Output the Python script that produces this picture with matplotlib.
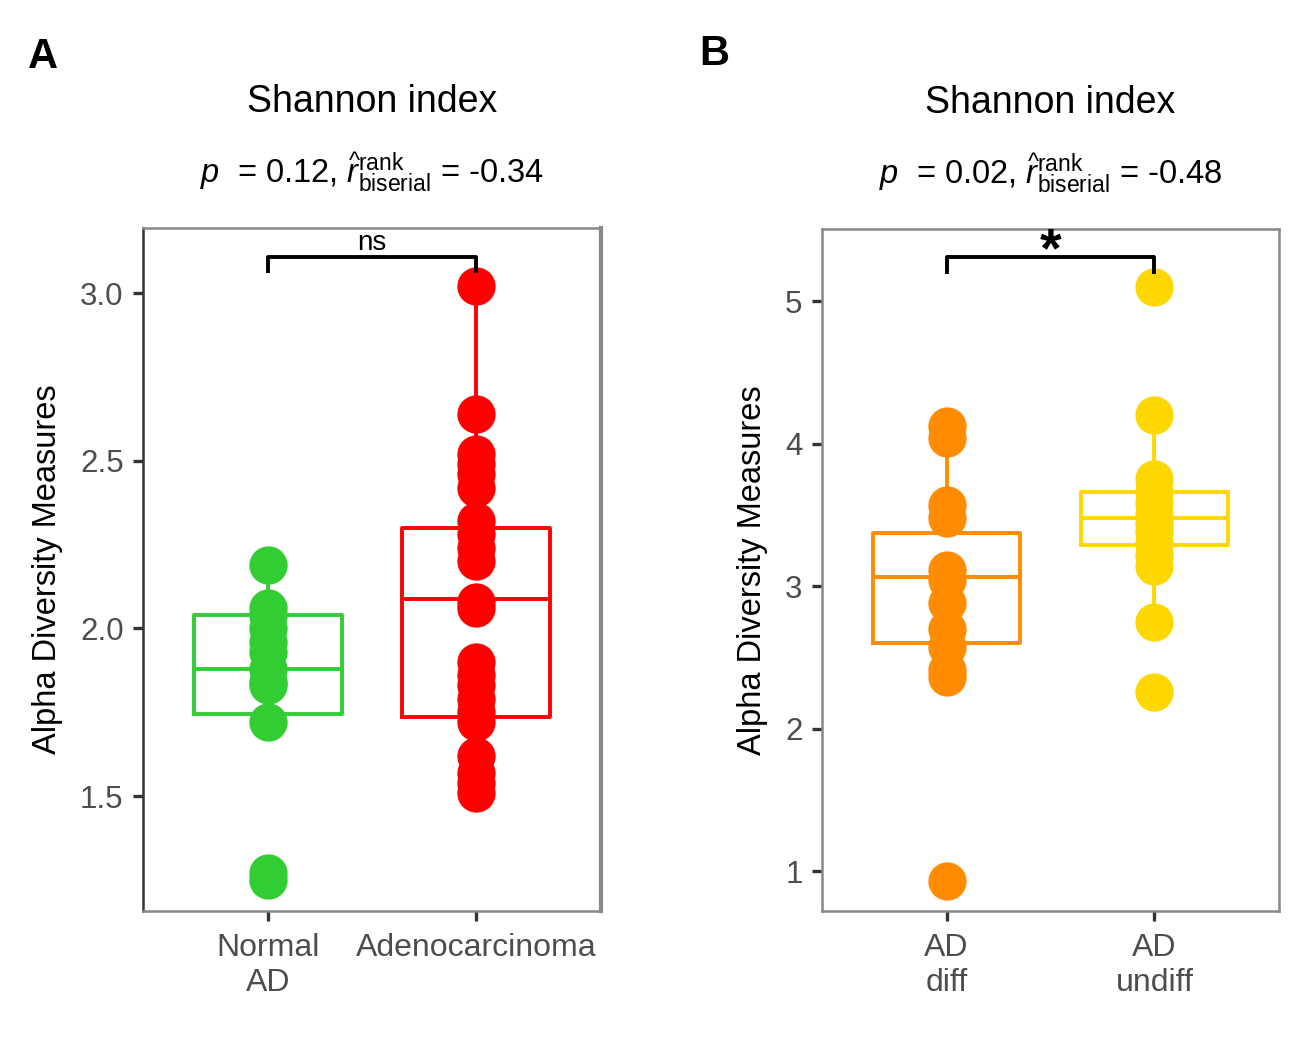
import matplotlib
matplotlib.use("Agg")
import matplotlib.pyplot as plt

plt.rcParams['font.family'] = ['Liberation Sans', 'DejaVu Sans']
plt.rcParams['mathtext.fontset'] = 'custom'
plt.rcParams['mathtext.rm'] = 'Liberation Sans'
plt.rcParams['mathtext.it'] = 'Liberation Sans:italic'

# panel A data
groups_a = ["Normal\nAD", "Adenocarcinoma"]
normal_ad = [2.19, 2.06, 2.04, 2.00, 1.96, 1.93, 1.88, 1.84, 1.83, 1.72, 1.27, 1.25]
adeno = [3.02, 2.64, 2.52, 2.49, 2.46, 2.42, 2.32, 2.28, 2.24, 2.20, 2.08, 2.06,
         1.90, 1.86, 1.83, 1.79, 1.75, 1.72, 1.62, 1.57, 1.54, 1.51]
# box stats: q1, median, q3, lower whisker, upper whisker
box_a = [(1.745, 1.878, 2.04, 1.72, 2.19), (1.737, 2.087, 2.298, 1.51, 3.02)]
colors_a = ["#32CD32", "#FF0000"]

# panel B data
groups_b = ["AD\ndiff", "AD\nundiff"]
ad_diff = [4.12, 4.04, 3.57, 3.48, 3.11, 3.04, 2.88, 2.70, 2.57, 2.41, 2.36, 0.93]
ad_undiff = [5.10, 4.20, 3.75, 3.66, 3.58, 3.50, 3.44, 3.38, 3.30, 3.22, 3.14, 2.75, 2.26]
box_b = [(2.60, 3.065, 3.37, 2.37, 4.12), (3.29, 3.48, 3.66, 2.75, 4.20)]
colors_b = ["#FF8C00", "#FFD700"]

subtitle_a = r'$p$  = 0.12, $\widehat{r}_{\mathrm{biserial}}^{\mathrm{rank}}$ = -0.34'
subtitle_b = r'$p$  = 0.02, $\widehat{r}_{\mathrm{biserial}}^{\mathrm{rank}}$ = -0.48'


def panel(ax, groups, values, boxes, colors, ylim, yticks, ylabels, sig, bracket):
    stats = []
    for g, b in zip(groups, boxes):
        stats.append(dict(label=g, q1=b[0], med=b[1], q3=b[2], whislo=b[3], whishi=b[4]))
    bp = ax.bxp(stats, positions=[1, 2], widths=0.71, showfliers=False, showcaps=False,
                patch_artist=False, manage_ticks=False)
    for i, c in enumerate(colors):
        bp['boxes'][i].set(color=c, linewidth=2.8)
        bp['medians'][i].set(color=c, linewidth=2.8)
        bp['whiskers'][2 * i].set(color=c, linewidth=2.8)
        bp['whiskers'][2 * i + 1].set(color=c, linewidth=2.8)
        ax.scatter([i + 1] * len(values[i]), values[i], s=760, color=c, zorder=3, linewidths=0)

    # significance bracket
    y0, y1 = bracket
    ax.plot([1, 1, 2, 2], [y0, y1, y1, y0], color="black", lw=2.8, zorder=4,
            solid_capstyle='butt', clip_on=False)
    if sig == "ns":
        ax.text(1.5, y1 + (ylim[1] - ylim[0]) * 0.002, sig, ha="center", va="bottom", fontsize=20)
    else:
        ax.text(1.5, y1 - (ylim[1] - ylim[0]) * 0.032, sig, ha="center", va="bottom",
                fontsize=40, fontweight="bold")

    ax.set_xlim(0.4, 2.6)
    ax.set_ylim(*ylim)
    ax.set_xticks([1, 2])
    ax.set_xticklabels(groups, color="#4d4d4d", fontsize=23, linespacing=1.22)
    ax.set_yticks(yticks)
    ax.set_yticklabels(ylabels, color="#4d4d4d", fontsize=22.5)
    ax.tick_params(length=7, width=2.4, color="#333333", pad=7)
    ax.tick_params(axis='x', pad=9)
    ax.set_ylabel("Alpha Diversity Measures", fontsize=23.5, labelpad=12)
    for s in ax.spines.values():
        s.set_color("#888888")
        s.set_linewidth(1.8)


fig = plt.figure(figsize=(13.1, 10.45), dpi=100)

ax1 = fig.add_axes([0.1092, 0.1282, 0.3496, 0.6536])
panel(ax1, groups_a, [normal_ad, adeno], box_a, colors_a, (1.157, 3.194),
      [1.5, 2.0, 2.5, 3.0], ["1.5", "2.0", "2.5", "3.0"], "ns", (3.06, 3.107))
ax1.spines['left'].set_color("#333333")
ax1.spines['right'].set_linewidth(3)

ax2 = fig.add_axes([0.6275, 0.1282, 0.3489, 0.6526])
panel(ax2, groups_b, [ad_diff, ad_undiff], box_b, colors_b, (0.72, 5.505),
      [1, 2, 3, 4, 5], ["1", "2", "3", "4", "5"], "*", (5.19, 5.31))

fig.text(0.284, 0.902, "Shannon index", ha="center", va="center", fontsize=27)
fig.text(0.802, 0.901, "Shannon index", ha="center", va="center", fontsize=27)
fig.text(0.284, 0.835, subtitle_a, ha="center", va="center", fontsize=23.5)
fig.text(0.802, 0.834, subtitle_b, ha="center", va="center", fontsize=23.5)

fig.text(0.021, 0.945, "A", ha="left", va="center", fontsize=30, fontweight="bold")
fig.text(0.534, 0.948, "B", ha="left", va="center", fontsize=30, fontweight="bold")

fig.savefig("out.png", dpi=100)
